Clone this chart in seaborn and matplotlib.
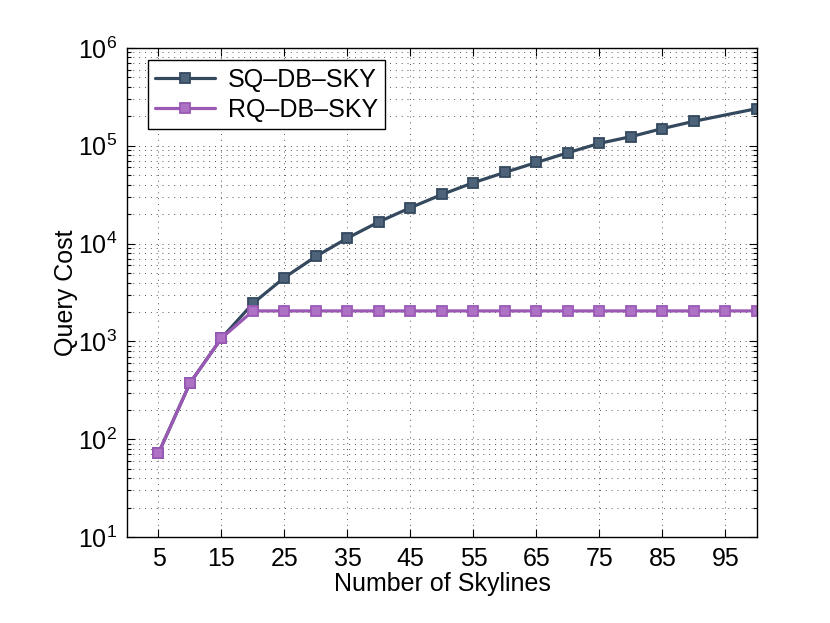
import pandas as pd
import matplotlib
matplotlib.use("Agg")
import matplotlib.pyplot as plt
from matplotlib.ticker import LogLocator, FixedLocator, NullFormatter
import seaborn as sns

# values
sq_x = [5, 10, 15, 20, 25, 30, 35, 40, 45, 50, 55, 60, 65, 70, 75, 80, 85, 90, 100]
sq_cost = [72, 375, 1080, 2450, 4500, 7400, 11400, 16700, 23300, 31800, 42000,
           53500, 67500, 85000, 106000, 124000, 150000, 178000, 240000]
rq_x = [5, 10, 15, 20, 25, 30, 35, 40, 45, 50, 55, 60, 65, 70, 75, 80, 85, 90, 95, 100]
rq_cost = [72, 375, 1080, 2050, 2050, 2050, 2050, 2050, 2050, 2050, 2050,
           2050, 2050, 2050, 2050, 2050, 2050, 2050, 2050, 2050]
x_ticks = [5, 15, 25, 35, 45, 55, 65, 75, 85, 95]

sq = pd.DataFrame({"x": sq_x, "cost": sq_cost})
rq = pd.DataFrame({"x": rq_x, "cost": rq_cost})

sns.set_theme(style="ticks")
plt.rcParams["font.family"] = ["Liberation Sans", "DejaVu Sans"]
plt.rcParams["mathtext.default"] = "regular"
plt.rcParams["text.color"] = "black"
plt.rcParams["axes.labelcolor"] = "black"

fig = plt.figure(figsize=(8.3, 6.23), dpi=100)
ax = fig.add_axes([0.153, 0.138, 0.759, 0.785])

sq_color = "#34495e"
rq_color = "#9b59b6"

sns.lineplot(data=sq, x="x", y="cost", ax=ax, color=sq_color, linewidth=2.3,
             marker="s", markersize=7.5, markerfacecolor="#4d6379",
             markeredgecolor=sq_color, markeredgewidth=1.3, label="SQ\u2013DB\u2013SKY")
sns.lineplot(data=rq, x="x", y="cost", ax=ax, color=rq_color, linewidth=2.3,
             marker="s", markersize=7.5, markerfacecolor="#ad72c4",
             markeredgecolor=rq_color, markeredgewidth=1.3, label="RQ\u2013DB\u2013SKY")

ax.set_yscale("log")
ax.set_xlim(0, 100)
ax.set_ylim(10, 1e6)
ax.xaxis.set_major_locator(FixedLocator(x_ticks))
ax.yaxis.set_major_locator(LogLocator(base=10, numticks=10))
ax.yaxis.set_minor_locator(LogLocator(base=10, subs=range(2, 10), numticks=20))
ax.yaxis.set_minor_formatter(NullFormatter())

# matlab style dotted grid
dots = (0, (1, 5))
ax.grid(True, which="major", axis="both", linestyle=dots, color="#555555", linewidth=0.7)
ax.grid(True, which="minor", axis="y", linestyle=dots, color="#555555", linewidth=0.7)

ax.tick_params(which="both", direction="in", top=True, right=True, labelsize=18,
               colors="black", width=0.8)
ax.tick_params(which="major", length=6, pad=7)
ax.tick_params(which="minor", length=3)
for s in ax.spines.values():
    s.set_color("black")
    s.set_linewidth(1.0)

ax.set_xlabel("Number of Skylines", fontsize=18, labelpad=1)
ax.set_ylabel("Query Cost", fontsize=18, labelpad=0)

leg = ax.legend(loc="upper left", bbox_to_anchor=(0.033, 0.975), borderaxespad=0,
                fontsize=18, frameon=True, fancybox=False, framealpha=1,
                edgecolor="black", handlelength=2.4, borderpad=0.3,
                labelspacing=0.25, handletextpad=0.5)
leg.get_frame().set_linewidth(1.0)

fig.savefig("out.png", dpi=100)
